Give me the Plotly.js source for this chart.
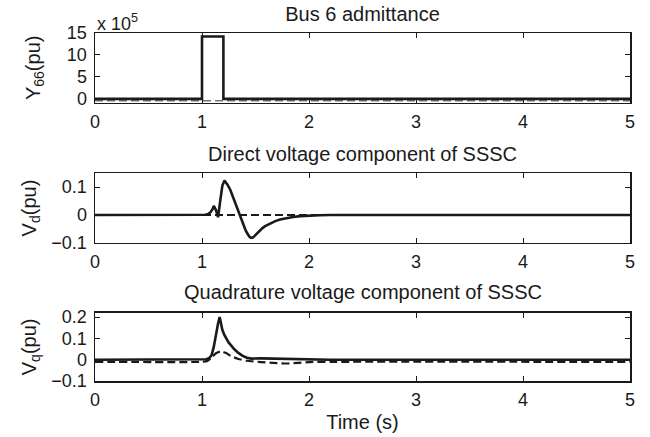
<!DOCTYPE html>
<html>
<head>
<meta charset="utf-8">
<script src="https://cdn.plot.ly/plotly-3.0.1.min.js"></script>
<style>html,body{margin:0;padding:0;background:#fff;}#chart{width:650px;height:437px;}</style>
</head>
<body>
<div id="chart"></div>
<script>
// ---- Data ----
// Panel 1: Bus 6 admittance (units of 1e5 pu)
var tY66 = [0, 1.0, 1.0, 1.2, 1.2, 5];
var Y66 = [0, 0, 14.2, 14.2, 0, 0];
var tY66ref = [0, 5];
var Y66ref = [-0.45, -0.45];

// Panel 2: direct voltage component of SSSC
var tVd = [0, 1.0, 1.03, 1.06, 1.08, 1.1, 1.11, 1.13, 1.15, 1.17, 1.19, 1.21, 1.24, 1.265, 1.29, 1.31, 1.33, 1.35, 1.37, 1.39, 1.41, 1.43, 1.445, 1.46, 1.475, 1.49, 1.515, 1.54, 1.565, 1.59, 1.64, 1.69, 1.73, 1.79, 1.85, 1.92, 2.0, 2.1, 2.2, 5];
var Vd = [0, 0, 0.001, 0.004, 0.01, 0.022, 0.033, 0.018, -0.008, 0.05, 0.105, 0.124, 0.108, 0.09, 0.065, 0.042, 0.021, 0.0, -0.02, -0.04, -0.057, -0.07, -0.079, -0.082, -0.081, -0.076, -0.066, -0.056, -0.047, -0.04, -0.029, -0.021, -0.016, -0.011, -0.007, -0.004, -0.002, -0.001, 0, 0];
var tVdref = [0, 5];
var Vdref = [0, 0];

// Panel 3: quadrature voltage component of SSSC
var tVq = [0, 1.0, 1.04, 1.07, 1.09, 1.11, 1.13, 1.15, 1.165, 1.175, 1.19, 1.21, 1.23, 1.25, 1.27, 1.3, 1.34, 1.38, 1.42, 1.46, 1.55, 1.7, 1.85, 2.0, 2.2, 5];
var Vq = [0, 0, 0.002, 0.008, 0.022, 0.06, 0.12, 0.17, 0.2, 0.175, 0.14, 0.115, 0.095, 0.08, 0.068, 0.05, 0.032, 0.018, 0.009, 0.005, 0.006, 0.005, 0.003, 0.001, 0, 0];
var tVqref = [0, 1.0, 1.05, 1.09, 1.13, 1.18, 1.22, 1.28, 1.34, 1.42, 1.55, 1.7, 1.8, 1.9, 2.0, 2.2, 5];
var Vqref = [-0.01, -0.01, -0.006, 0.01, 0.03, 0.04, 0.032, 0.015, 0.003, -0.005, -0.011, -0.016, -0.018, -0.015, -0.011, -0.01, -0.01];

var xTicks = [0, 1, 2, 3, 4, 5];
var y1Ticks = [0, 5, 10, 15];
var y2Ticks = [-0.1, 0, 0.1];
var y3Ticks = [-0.1, 0, 0.1, 0.2];

var titles = ['Bus 6 admittance', 'Direct voltage component of SSSC', 'Quadrature voltage component of SSSC'];
var yLabels = ['Y<sub>66</sub>(pu)', 'V<sub>d</sub>(pu)', 'V<sub>q</sub>(pu)'];
var xLabel = 'Time (s)';
var expLabel = 'x 10<sup>5</sup>';

// ---- Styling ----
var FONT = 'Liberation Sans, Arial, Helvetica, sans-serif';
var INK = '#1a1a1a';
var TICK = 18, LBL = 20;
var solid = {color: INK, width: 2.6};
var dashed = {color: INK, width: 2.2, dash: '8px,4px'};
var dashedGrey = {color: '#777', width: 1.5, dash: '8px,4px'};

var traces = [
  {x: tY66ref, y: Y66ref, xaxis: 'x3', yaxis: 'y3', mode: 'lines', line: dashedGrey},
  {x: tY66, y: Y66, xaxis: 'x3', yaxis: 'y3', mode: 'lines', line: solid},
  {x: tVdref, y: Vdref, xaxis: 'x2', yaxis: 'y2', mode: 'lines', line: dashed},
  {x: tVd, y: Vd, xaxis: 'x2', yaxis: 'y2', mode: 'lines', line: solid},
  {x: tVqref, y: Vqref, xaxis: 'x', yaxis: 'y', mode: 'lines', line: Object.assign({shape: 'spline', smoothing: 0.5}, dashed)},
  {x: tVq, y: Vq, xaxis: 'x', yaxis: 'y', mode: 'lines', line: solid}
];

function xAx(anchor, title) {
  var a = {
    anchor: anchor, range: [0, 5], tickvals: xTicks, ticktext: xTicks.map(String),
    ticks: 'inside', ticklen: 5, tickwidth: 1, tickcolor: INK,
    showline: true, linecolor: INK, linewidth: 1.5, mirror: 'ticks',
    showgrid: false, zeroline: false, ticklabelstandoff: 2,
    tickfont: {family: FONT, size: TICK, color: INK}
  };
  if (title) a.title = {text: title, standoff: 6, font: {family: FONT, size: LBL, color: INK}};
  return a;
}
function yAx(anchor, domain, range, ticks, title, standoff) {
  return {
    anchor: anchor, domain: domain, range: range, tickvals: ticks,
    ticktext: ticks.map(function (v) { return v < 0 ? '\u2212' + String(-v) : String(v); }),
    ticks: 'inside', ticklen: 5, tickwidth: 1, tickcolor: INK,
    showline: true, linecolor: INK, linewidth: 1.5, mirror: 'ticks',
    showgrid: false, zeroline: false, ticklabelstandoff: 3,
    tickfont: {family: FONT, size: TICK, color: INK},
    title: {text: title, standoff: standoff, font: {family: FONT, size: LBL, color: INK}}
  };
}

var d1 = [0.80, 1.0], d2 = [0.397, 0.597], d3 = [0, 0.196];
var annots = [
  {text: titles[1], x: 0.5, y: 0.6523, xref: 'paper', yref: 'paper', xanchor: 'center', yanchor: 'middle', showarrow: false, font: {family: FONT, size: LBL, color: INK}},
  {text: titles[2], x: 0.5, y: 0.2566, xref: 'paper', yref: 'paper', xanchor: 'center', yanchor: 'middle', showarrow: false, font: {family: FONT, size: LBL, color: INK}},
  {text: expLabel, x: 0, y: 1.0316, xref: 'paper', yref: 'paper', xanchor: 'left', yanchor: 'middle', showarrow: false, font: {family: FONT, size: TICK, color: INK}}
];

var layout = {
  width: 650, height: 437,
  margin: {l: 95, r: 20, t: 33, b: 56, pad: 0},
  paper_bgcolor: '#fff', plot_bgcolor: '#fff',
  showlegend: false,
  font: {family: FONT, size: TICK, color: INK},
  title: {text: titles[0], x: 0.5, xref: 'paper', xanchor: 'center', y: 1 - 14 / 437, yref: 'container', yanchor: 'middle', font: {family: FONT, size: LBL, color: INK}, pad: {t: 0, b: 0}},
  xaxis: xAx('y', xLabel),
  yaxis: yAx('x', d3, [-0.1, 0.22], y3Ticks, yLabels[2], 9),
  xaxis2: xAx('y2'),
  yaxis2: yAx('x2', d2, [-0.1, 0.15], y2Ticks, yLabels[1], 9),
  xaxis3: xAx('y3'),
  yaxis3: yAx('x3', d1, [-0.85, 15], y1Ticks, yLabels[0], 21),
  annotations: annots
};

Plotly.newPlot('chart', traces, layout, {staticPlot: true, displayModeBar: false});
</script>
</body>
</html>
